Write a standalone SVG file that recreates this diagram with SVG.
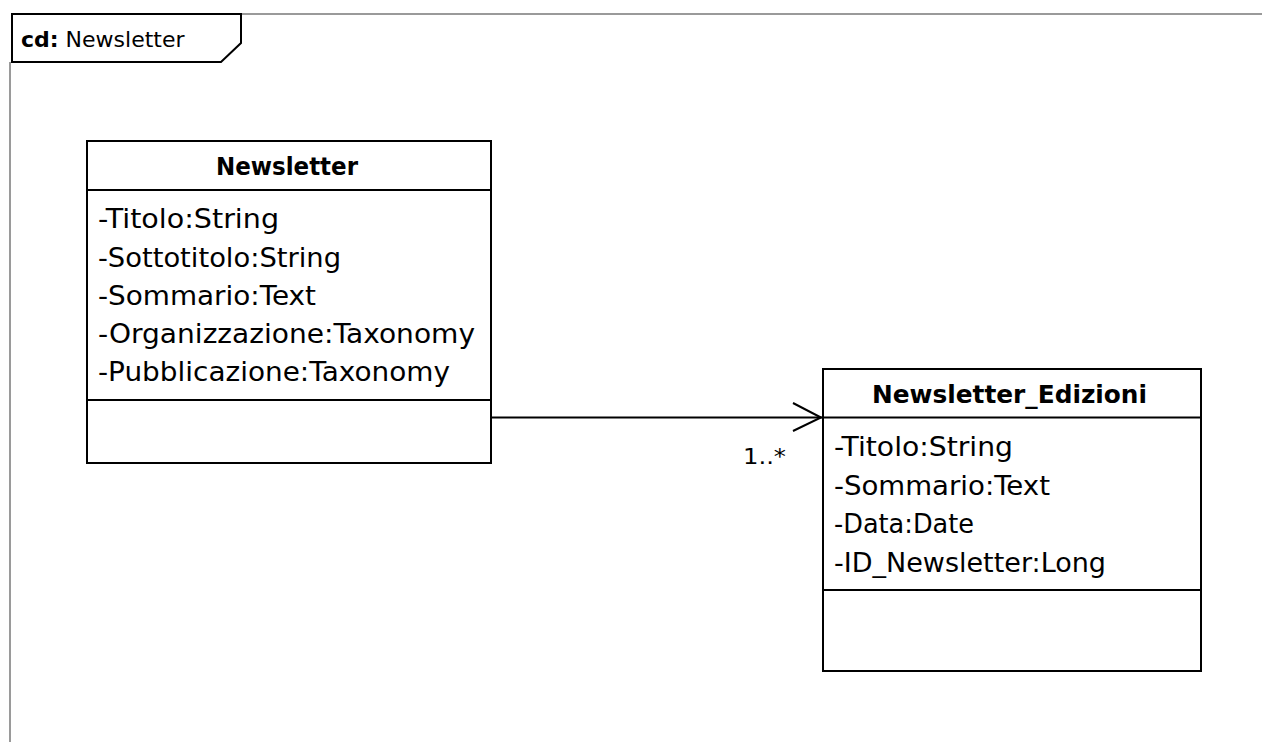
<svg xmlns="http://www.w3.org/2000/svg" width="1262" height="742" viewBox="0 0 1262 742">
<style>
.frame{stroke:#9a9a9a;stroke-width:2;fill:none}
.box{fill:#fff;stroke:#000;stroke-width:2}
.div{stroke:#000;stroke-width:2}
.t{font-family:"DejaVu Sans","Liberation Sans",sans-serif;fill:#000}
.attr{font-size:26px}
.title{font-size:25px;font-weight:bold;text-anchor:middle}
.conn{stroke:#000;stroke-width:2;fill:none}
</style>
<g id="frame">
<line class="frame" x1="240" y1="14" x2="1262" y2="14"/>
<line class="frame" x1="10" y1="62" x2="10" y2="742"/>
<path d="M12 14 H241 V43 L221 62 H12 Z" fill="#fff" stroke="#000" stroke-width="2"/>
<text class="t" x="21" y="47" font-size="22"><tspan font-weight="bold">cd:</tspan> Newsletter</text>
</g>
<g id="connectors">
<line class="conn" x1="491" y1="417.5" x2="822" y2="417.5"/>
<polyline class="conn" points="793,403 821,417.5 793,431"/>
<text class="t" x="743" y="464" font-size="22" textLength="43" lengthAdjust="spacingAndGlyphs">1..*</text>
</g>
<g id="Newsletter">
<rect class="box" x="87" y="141" width="404" height="322"/>
<line class="div" x1="87" y1="190" x2="491" y2="190"/>
<line class="div" x1="87" y1="400" x2="491" y2="400"/>
<text class="t title" x="287" y="175" textLength="142" lengthAdjust="spacingAndGlyphs">Newsletter</text>
<text class="t attr" x="98" y="228" textLength="181" lengthAdjust="spacingAndGlyphs">-Titolo:String</text>
<text class="t attr" x="98" y="267" textLength="243" lengthAdjust="spacingAndGlyphs">-Sottotitolo:String</text>
<text class="t attr" x="98" y="305" textLength="218" lengthAdjust="spacingAndGlyphs">-Sommario:Text</text>
<text class="t attr" x="98" y="343" textLength="377" lengthAdjust="spacingAndGlyphs">-Organizzazione:Taxonomy</text>
<text class="t attr" x="98" y="381" textLength="352" lengthAdjust="spacingAndGlyphs">-Pubblicazione:Taxonomy</text>
</g>
<g id="Newsletter_Edizioni">
<rect class="box" x="823" y="369" width="378" height="302"/>
<line class="div" x1="823" y1="417.5" x2="1201" y2="417.5"/>
<line class="div" x1="823" y1="590" x2="1201" y2="590"/>
<text class="t title" x="1009.5" y="403" textLength="275" lengthAdjust="spacingAndGlyphs">Newsletter_Edizioni</text>
<text class="t attr" x="834" y="456" textLength="179" lengthAdjust="spacingAndGlyphs">-Titolo:String</text>
<text class="t attr" x="834" y="495" textLength="216" lengthAdjust="spacingAndGlyphs">-Sommario:Text</text>
<text class="t attr" x="834" y="533" textLength="140" lengthAdjust="spacingAndGlyphs">-Data:Date</text>
<text class="t attr" x="834" y="572" textLength="272" lengthAdjust="spacingAndGlyphs">-ID_Newsletter:Long</text>
</g>
</svg>
